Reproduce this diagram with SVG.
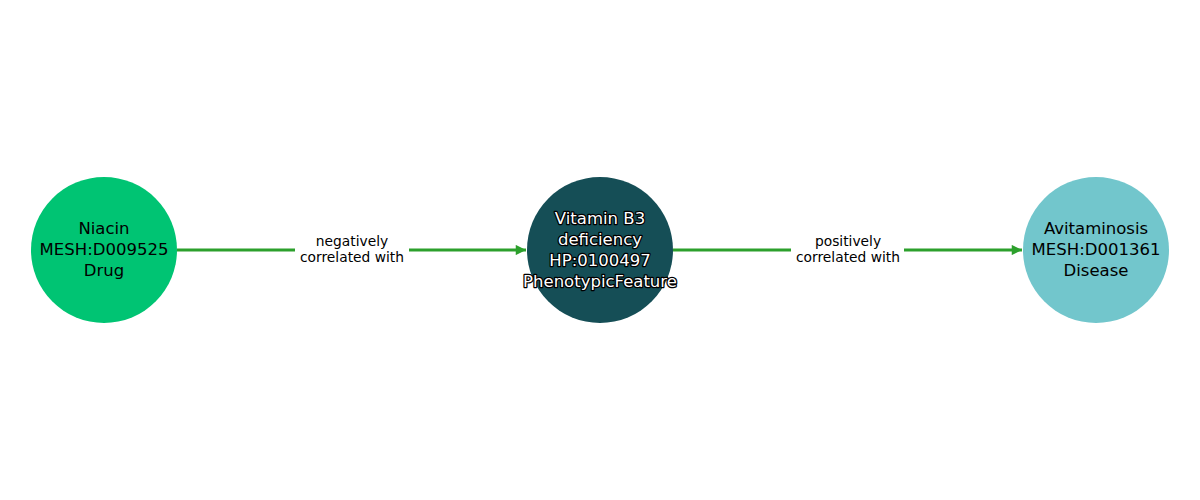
<svg xmlns="http://www.w3.org/2000/svg" width="1200" height="500" viewBox="0 0 1200 500">
<defs>
<marker id="arr" viewBox="0 0 10 10" refX="10" refY="5" markerWidth="3.6" markerHeight="3.2" orient="auto" markerUnits="strokeWidth">
<path d="M0,0 L10,5 L0,10 z" fill="#2ca02c"/>
</marker>
<style>
.nt{font-family:"DejaVu Sans",sans-serif;font-size:16.5px;text-anchor:middle;fill:#000}
.wt{font-family:"DejaVu Sans",sans-serif;font-size:16.5px;text-anchor:middle;fill:#fff;stroke:#000;stroke-width:2.5px;paint-order:stroke;stroke-linejoin:round}
.el{font-family:"DejaVu Sans",sans-serif;font-size:13.8px;text-anchor:middle;fill:#000}
.edge{stroke:#2ca02c;stroke-width:3.2;fill:none}
</style>
</defs>
<rect width="1200" height="500" fill="#fff"/>
<g id="connectors">
<line class="edge" x1="177" y1="250" x2="526" y2="250" marker-end="url(#arr)"/>
<rect x="295" y="232" width="114" height="36" fill="#fff"/>
<text class="el" x="352" y="246">negatively</text>
<text class="el" x="352" y="262">correlated with</text>
<line class="edge" x1="673" y1="250" x2="1022" y2="250" marker-end="url(#arr)"/>
<rect x="791" y="232" width="113" height="36" fill="#fff"/>
<text class="el" x="848" y="246">positively</text>
<text class="el" x="848" y="262">correlated with</text>
</g>
<g id="niacin">
<circle cx="104" cy="250" r="73" fill="#00c473"/>
<text class="nt" x="104" y="234">Niacin</text>
<text class="nt" x="104" y="255">MESH:D009525</text>
<text class="nt" x="104" y="276">Drug</text>
</g>
<g id="vitb3">
<circle cx="600" cy="250" r="73" fill="#154e56"/>
<text class="wt" x="600" y="224">Vitamin B3</text>
<text class="wt" x="600" y="245">deficiency</text>
<text class="wt" x="600" y="266">HP:0100497</text>
<text class="wt" x="600" y="287">PhenotypicFeature</text>
</g>
<g id="avitaminosis">
<circle cx="1096" cy="250" r="73" fill="#72c6cc"/>
<text class="nt" x="1096" y="234">Avitaminosis</text>
<text class="nt" x="1096" y="255">MESH:D001361</text>
<text class="nt" x="1096" y="276">Disease</text>
</g>
</svg>
